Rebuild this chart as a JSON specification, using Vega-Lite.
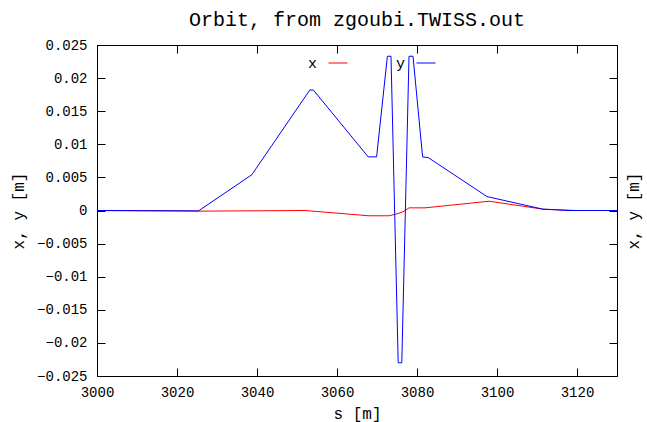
{
  "$schema": "https://vega.github.io/schema/vega-lite/v6.json",
  "autosize": {"type": "none"},
  "width": 520,
  "height": 331,
  "padding": {"left": 97, "top": 45, "right": 30, "bottom": 46},
  "background": "white",
  "title": {"text": "Orbit, from zgoubi.TWISS.out", "font": "Liberation Mono", "fontSize": 20, "fontWeight": "normal", "color": "#000", "offset": 8, "anchor": "middle"},
  "config": {
    "view": {"stroke": "#000", "strokeWidth": 1},
    "axis": {"labelFont": "Liberation Mono", "titleFont": "Liberation Mono", "labelFontSize": 14, "titleFontSize": 16, "titleFontWeight": "normal", "labelColor": "#000", "titleColor": "#000", "grid": false, "domainColor": "#000", "tickColor": "#000", "tickSize": -8, "tickWidth": 1},
    "legend": {"labelFont": "Liberation Mono", "labelFontSize": 15, "labelColor": "#000"}
  },
  "data": {"values": [
    {"s": 3000, "v": 0, "c": "x"},
    {"s": 3025, "v": -0.0001, "c": "x"},
    {"s": 3052, "v": 0, "c": "x"},
    {"s": 3068, "v": -0.0008, "c": "x"},
    {"s": 3073, "v": -0.0008, "c": "x"},
    {"s": 3075, "v": -0.0005, "c": "x"},
    {"s": 3076.5, "v": -0.0002, "c": "x"},
    {"s": 3078, "v": 0.0004, "c": "x"},
    {"s": 3082, "v": 0.0004, "c": "x"},
    {"s": 3098, "v": 0.0014, "c": "x"},
    {"s": 3111.5, "v": 0.0002, "c": "x"},
    {"s": 3120, "v": 0, "c": "x"},
    {"s": 3130, "v": 0, "c": "x"},
    {"s": 3000, "v": 0, "c": "y"},
    {"s": 3025.4, "v": -0.00005, "c": "y"},
    {"s": 3038.7, "v": 0.0054, "c": "y"},
    {"s": 3053.2, "v": 0.0182, "c": "y"},
    {"s": 3054.1, "v": 0.0182, "c": "y"},
    {"s": 3067.8, "v": 0.0081, "c": "y"},
    {"s": 3069.9, "v": 0.0081, "c": "y"},
    {"s": 3072.6, "v": 0.0233, "c": "y"},
    {"s": 3073.5, "v": 0.0233, "c": "y"},
    {"s": 3075.3, "v": -0.023, "c": "y"},
    {"s": 3076.2, "v": -0.023, "c": "y"},
    {"s": 3078.0, "v": 0.0233, "c": "y"},
    {"s": 3079.0, "v": 0.0233, "c": "y"},
    {"s": 3081.4, "v": 0.0081, "c": "y"},
    {"s": 3082.8, "v": 0.008, "c": "y"},
    {"s": 3097.5, "v": 0.0021, "c": "y"},
    {"s": 3111.5, "v": 0.0002, "c": "y"},
    {"s": 3118, "v": 0, "c": "y"},
    {"s": 3130, "v": 0, "c": "y"}
  ]},
  "layer": [
    {
      "mark": {"type": "line", "strokeWidth": 1, "clip": true},
      "encoding": {
        "x": {"field": "s", "type": "quantitative", "scale": {"domain": [3000, 3130], "nice": false, "zero": false},
              "axis": {"title": "s  [m]", "format": "d", "values": [3000, 3020, 3040, 3060, 3080, 3100, 3120], "labelPadding": 17, "titlePadding": 6, "labelFlush": false}},
        "y": {"field": "v", "type": "quantitative", "scale": {"domain": [-0.025, 0.025], "nice": false, "zero": false},
              "axis": {"title": "x, y [m]", "values": [-0.025, -0.02, -0.015, -0.01, -0.005, 0, 0.005, 0.01, 0.015, 0.02, 0.025], "format": ".3~f", "labelPadding": 18, "titlePadding": 10, "labelFlush": false}},
        "color": {"field": "c", "type": "nominal", "scale": {"domain": ["x", "y"], "range": ["#ff0000", "#0000ff"]},
                  "legend": {"title": null, "orient": "none", "legendX": 231, "legendY": 8, "direction": "horizontal", "symbolType": "stroke", "symbolSize": 361, "symbolStrokeWidth": 1, "labelAlign": "right", "labelOffset": -31, "columnPadding": 45, "padding": 0}},
        "order": {"field": "c"}
      }
    },
    {
      "mark": {"type": "line", "strokeOpacity": 0, "clip": true},
      "encoding": {
        "x": {"field": "s", "type": "quantitative", "axis": {"orient": "top", "title": null, "labels": false, "values": [3000, 3020, 3040, 3060, 3080, 3100, 3120]}},
        "y": {"field": "v", "type": "quantitative", "axis": {"orient": "right", "title": "x, y [m]", "titleAngle": 270, "labels": false, "titlePadding": 24, "values": [-0.025, -0.02, -0.015, -0.01, -0.005, 0, 0.005, 0.01, 0.015, 0.02, 0.025]}},
        "detail": {"field": "c"}
      }
    }
  ],
  "resolve": {"axis": {"x": "independent", "y": "independent"}}
}
